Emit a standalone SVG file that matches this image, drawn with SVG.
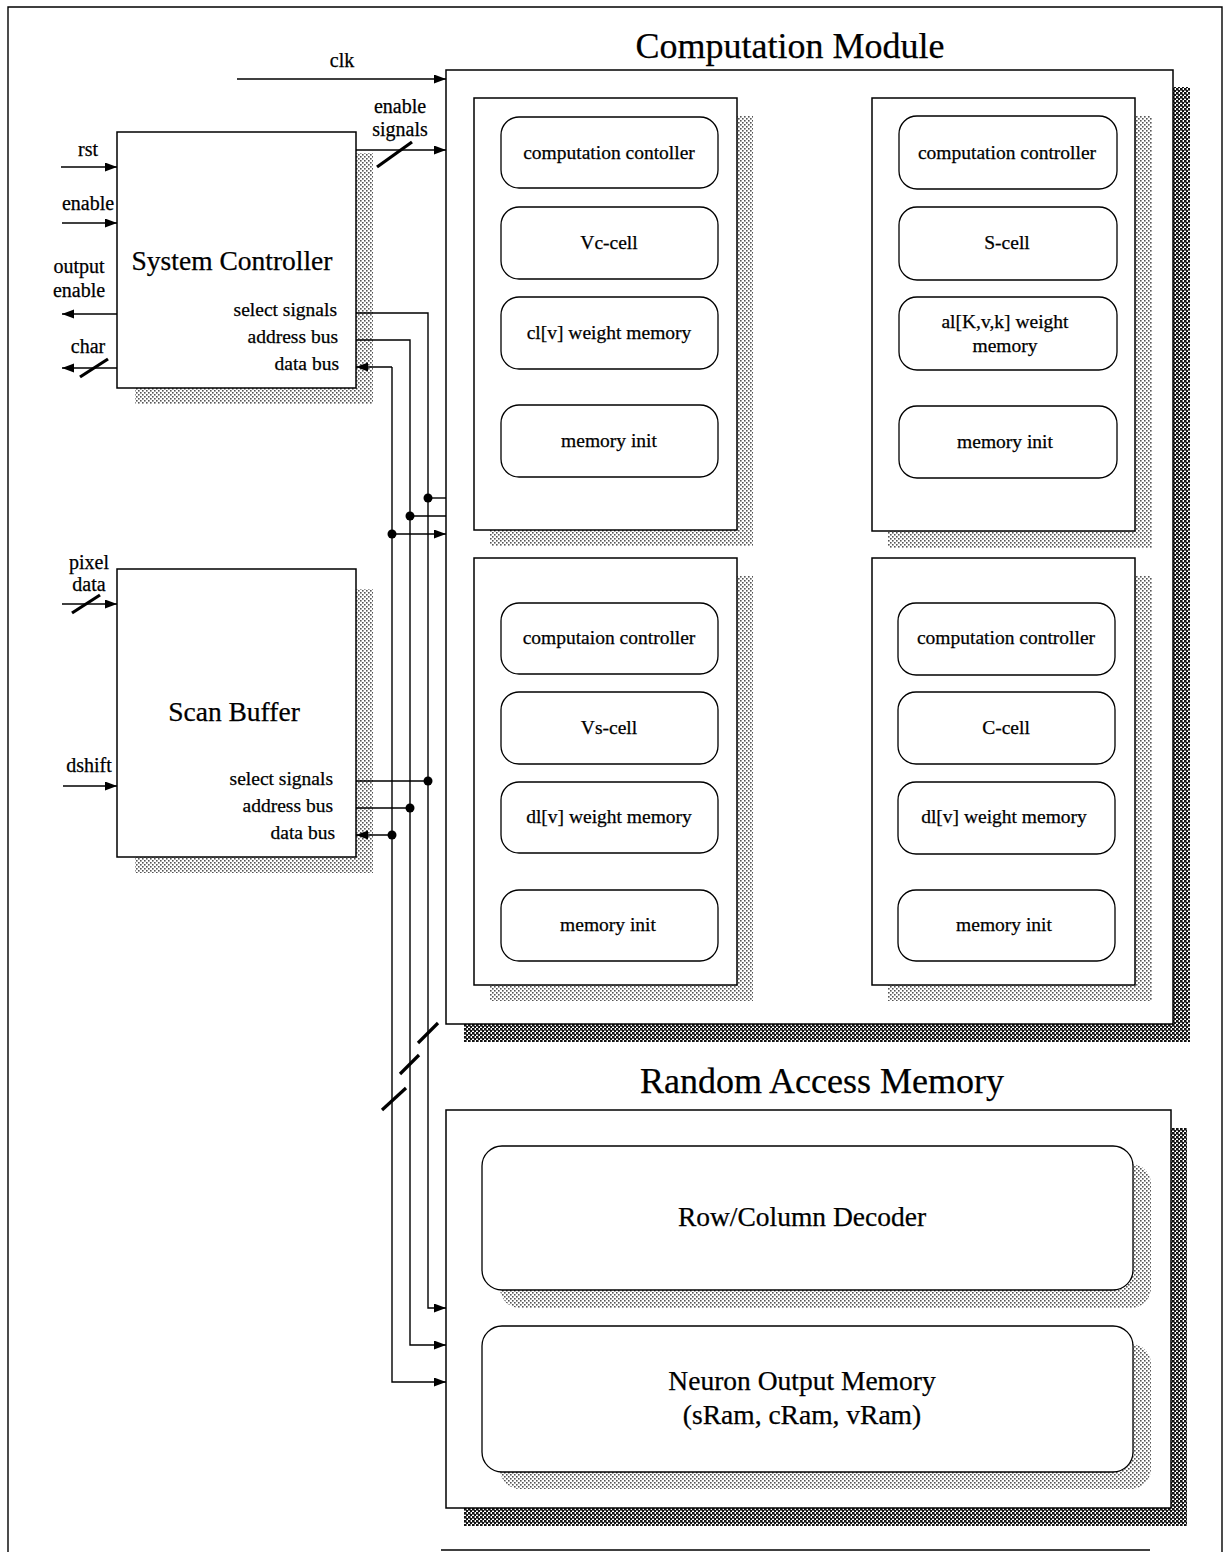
<svg xmlns="http://www.w3.org/2000/svg" width="1228" height="1552" viewBox="0 0 1228 1552">
<defs>
<pattern id="lt" width="4" height="4" patternUnits="userSpaceOnUse"><rect width="4" height="4" fill="#fff"/><rect x="0" y="0" width="1.6" height="1.6" fill="#555"/><rect x="2" y="2" width="1.6" height="1.6" fill="#555"/></pattern>
<pattern id="dk" width="4" height="4" patternUnits="userSpaceOnUse"><rect width="4" height="4" fill="#fff"/><rect x="0" y="0" width="2.6" height="2.6" fill="#111"/><rect x="2" y="2" width="2.6" height="2.6" fill="#111"/></pattern>
<marker id="ah" markerUnits="userSpaceOnUse" markerWidth="13" markerHeight="10" refX="12" refY="4.5" orient="auto"><path d="M0,0 L12,4.5 L0,9 z" fill="#000"/></marker>
<style>
.box{fill:#fff;stroke:#000;stroke-width:1.5}
.rb{fill:#fff;stroke:#000;stroke-width:1.3}
.sl{fill:url(#lt)}
.sd{fill:url(#dk)}
.ln{fill:none;stroke:#000;stroke-width:1.4}
.ar{fill:none;stroke:#000;stroke-width:1.4;marker-end:url(#ah)}
.sh{fill:none;stroke:#000;stroke-width:3.2}
.dot{fill:#000}
text{font-family:"Liberation Serif","Times New Roman",serif;fill:#000;stroke:#000;stroke-width:0.25}
.t19{font-size:19.5px}
.t18{font-size:19.5px}
.t20{font-size:20px}
.t27{font-size:27.5px}
.t35{font-size:36px}
.m{text-anchor:middle}
.e{text-anchor:end}
</style>
</defs>
<rect x="0" y="0" width="1228" height="1552" fill="#fff" stroke="none"/>
<g id="frame">
<path class="ln" d="M8,1552 V7 H1222 V1552" stroke-width="2"/>
<path class="ln" d="M441,1550 H1150"/>
</g>

<g id="computation-module">
<rect class="sd" x="464" y="87" width="726" height="955"/>
<rect class="box" x="446" y="70" width="727" height="954"/>
<text class="t35 m" x="790" y="58">Computation Module</text>
</g>

<g id="panel-vc">
<rect class="sl" x="490" y="116" width="263" height="430"/>
<rect class="box" x="474" y="98" width="263" height="432"/>
<g><rect class="rb" x="501" y="117" width="217" height="71" rx="18"/><text class="t18 m" x="609" y="159">computation contoller</text></g>
<g><rect class="rb" x="501" y="207" width="217" height="72" rx="18"/><text class="t18 m" x="609" y="249">Vc-cell</text></g>
<g><rect class="rb" x="501" y="297" width="217" height="72" rx="18"/><text class="t18 m" x="609" y="339">cl[v] weight memory</text></g>
<g><rect class="rb" x="501" y="405" width="217" height="72" rx="18"/><text class="t18 m" x="609" y="447">memory init</text></g>
</g>

<g id="panel-s">
<rect class="sl" x="888" y="116" width="264" height="432"/>
<rect class="box" x="872" y="98" width="263" height="433"/>
<g><rect class="rb" x="899" y="116" width="218" height="73" rx="18"/><text class="t18 m" x="1007" y="159">computation controller</text></g>
<g><rect class="rb" x="899" y="207" width="218" height="73" rx="18"/><text class="t18 m" x="1007" y="249">S-cell</text></g>
<g><rect class="rb" x="899" y="297" width="218" height="73" rx="18"/><text class="t18 m" x="1005" y="328">al[K,v,k] weight</text><text class="t18 m" x="1005" y="352">memory</text></g>
<g><rect class="rb" x="899" y="406" width="218" height="72" rx="18"/><text class="t18 m" x="1005" y="448">memory init</text></g>
</g>

<g id="panel-vs">
<rect class="sl" x="490" y="576" width="263" height="425"/>
<rect class="box" x="474" y="558" width="263" height="427"/>
<g><rect class="rb" x="501" y="603" width="217" height="71" rx="18"/><text class="t18 m" x="609" y="644">computaion controller</text></g>
<g><rect class="rb" x="501" y="692" width="217" height="72" rx="18"/><text class="t18 m" x="609" y="734">Vs-cell</text></g>
<g><rect class="rb" x="501" y="782" width="217" height="71" rx="18"/><text class="t18 m" x="609" y="823">dl[v] weight memory</text></g>
<g><rect class="rb" x="501" y="890" width="217" height="71" rx="18"/><text class="t18 m" x="608" y="931">memory init</text></g>
</g>

<g id="panel-c">
<rect class="sl" x="888" y="576" width="264" height="425"/>
<rect class="box" x="872" y="558" width="263" height="427"/>
<g><rect class="rb" x="898" y="603" width="217" height="72" rx="18"/><text class="t18 m" x="1006" y="644">computation controller</text></g>
<g><rect class="rb" x="898" y="692" width="217" height="72" rx="18"/><text class="t18 m" x="1006" y="734">C-cell</text></g>
<g><rect class="rb" x="898" y="782" width="217" height="72" rx="18"/><text class="t18 m" x="1004" y="823">dl[v] weight memory</text></g>
<g><rect class="rb" x="898" y="890" width="217" height="71" rx="18"/><text class="t18 m" x="1004" y="931">memory init</text></g>
</g>

<g id="ram">
<rect class="sd" x="464" y="1128" width="723" height="398"/>
<rect class="box" x="446" y="1110" width="725" height="398"/>
<text class="t35 m" x="822" y="1093">Random Access Memory</text>
</g>
<g id="row-col-decoder">
<rect class="sl" x="500" y="1164" width="651" height="144" rx="20"/>
<rect class="rb" x="482" y="1146" width="651" height="144" rx="20"/>
<text class="t27 m" x="802" y="1226">Row/Column Decoder</text>
</g>
<g id="neuron-output-memory">
<rect class="sl" x="500" y="1344" width="651" height="145" rx="20"/>
<rect class="rb" x="482" y="1326" width="651" height="146" rx="20"/>
<text class="t27 m" x="802" y="1390">Neuron Output Memory</text>
<text class="t27 m" x="802" y="1424">(sRam, cRam, vRam)</text>
</g>

<g id="system-controller">
<rect class="sl" x="135" y="153" width="238" height="251"/>
<rect class="box" x="117" y="132" width="239" height="256"/>
<text class="t27 m" x="232" y="270">System Controller</text>
<text class="t19 e" x="337" y="316">select signals</text>
<text class="t19 e" x="338" y="343">address bus</text>
<text class="t19 e" x="339" y="370">data bus</text>
</g>

<g id="scan-buffer">
<rect class="sl" x="135" y="589" width="238" height="284"/>
<rect class="box" x="117" y="569" width="239" height="288"/>
<text class="t27 m" x="234" y="721">Scan Buffer</text>
<text class="t19 e" x="333" y="785">select signals</text>
<text class="t19 e" x="333" y="812">address bus</text>
<text class="t19 e" x="335" y="839">data bus</text>
</g>

<g id="labels">
<text class="t20 m" x="342" y="67">clk</text>
<text class="t20 m" x="400" y="113">enable</text>
<text class="t20 m" x="400" y="136">signals</text>
<text class="t20 m" x="88" y="156">rst</text>
<text class="t20 m" x="88" y="210">enable</text>
<text class="t20 m" x="79" y="273">output</text>
<text class="t20 m" x="79" y="297">enable</text>
<text class="t20 m" x="88" y="353">char</text>
<text class="t20 m" x="89" y="569">pixel</text>
<text class="t20 m" x="89" y="591">data</text>
<text class="t20 m" x="89" y="772">dshift</text>
</g>

<g id="connectors">
<path class="ar" d="M237,79 H446"/>
<path class="ar" d="M356,150 H446"/>
<path class="sh" d="M377,167 L412,142"/>
<path class="ar" d="M61,167 H117"/>
<path class="ar" d="M62,223 H117"/>
<path class="ar" d="M117,314 H62"/>
<path class="ar" d="M117,368 H62"/>
<path class="sh" d="M80,377 L108,359"/>
<path class="ar" d="M62,604 H117"/>
<path class="sh" d="M72,613 L100,595"/>
<path class="ar" d="M63,786 H117"/>

<path class="ar" d="M356,313 H428 V1308 H446"/>
<path class="ar" d="M356,340 H410 V1345 H446"/>
<path class="ar" d="M392,367 V1382 H446"/>
<path class="ar" d="M392,367 H356"/>
<path class="ln" d="M428,498 H446"/>
<path class="ln" d="M410,516 H446"/>
<path class="ar" d="M392,534 H446"/>
<path class="ln" d="M356,781 H428"/>
<path class="ln" d="M356,808 H410"/>
<path class="ar" d="M392,835 H356"/>
<circle class="dot" cx="428" cy="498" r="4.5"/>
<circle class="dot" cx="410" cy="516" r="4.5"/>
<circle class="dot" cx="392" cy="534" r="4.5"/>
<circle class="dot" cx="428" cy="781" r="4.5"/>
<circle class="dot" cx="410" cy="808" r="4.5"/>
<circle class="dot" cx="392" cy="835" r="4.5"/>
<path class="sh" d="M418,1043 L438,1023"/>
<path class="sh" d="M400,1074 L419,1055"/>
<path class="sh" d="M382,1110 L406,1088"/>
</g>
</svg>
